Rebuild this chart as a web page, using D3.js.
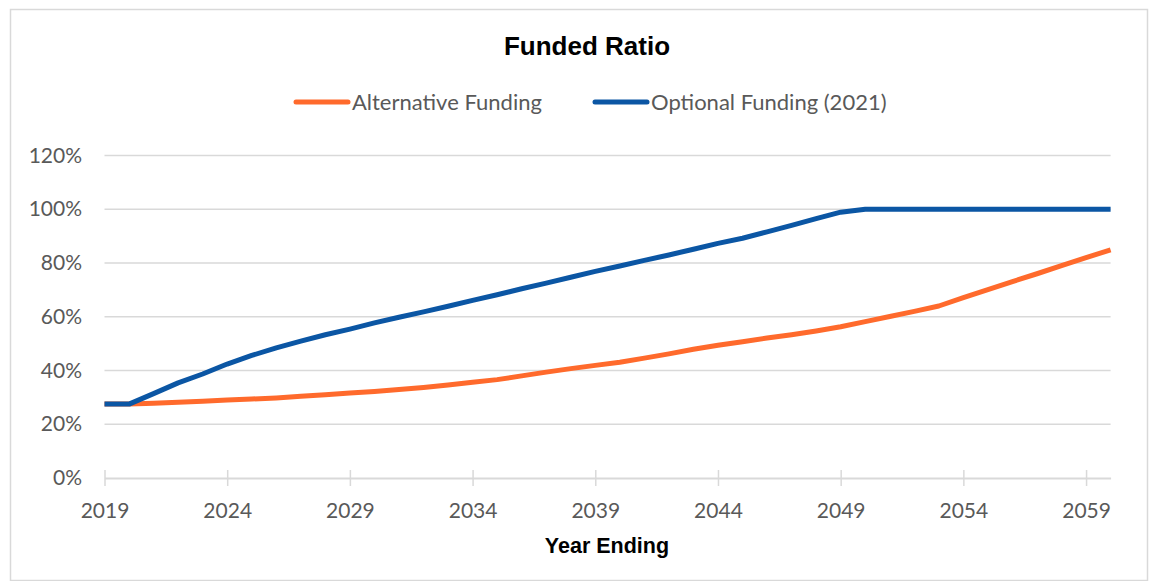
<!DOCTYPE html>
<html>
<head>
<meta charset="utf-8">
<script src="https://cdn.jsdelivr.net/npm/d3@7"></script>
<style>
  body { margin: 0; background: #fff; }
  svg { display: block; }
</style>
</head>
<body>
<svg id="chart" width="1149" height="581"></svg>
<script>
// Plan years (category axis)
const years = [2019, 2020, 2021, 2022, 2023, 2024, 2025, 2026, 2027, 2028,
               2029, 2030, 2031, 2032, 2033, 2034, 2035, 2036, 2037, 2038,
               2039, 2040, 2041, 2042, 2043, 2044, 2045, 2046, 2047, 2048,
               2049, 2050, 2051, 2052, 2053, 2054, 2055, 2056, 2057, 2058,
               2059, 2060];

// Funded ratio (%) under each funding approach
const alternativeFunding = [27.5, 27.5, 27.8, 28.2, 28.6, 29.0, 29.4, 29.8, 30.4, 31.0,
                            31.6, 32.2, 32.9, 33.7, 34.6, 35.6, 36.6, 38.0, 39.4, 40.7,
                            41.9, 43.1, 44.6, 46.2, 47.9, 49.4, 50.7, 52.1, 53.3, 54.7,
                            56.3, 58.2, 60.1, 62.0, 64.0, 67.1, 70.1, 73.1, 76.0, 79.0,
                            82.0, 84.9];
const optionalFunding = [27.5, 27.5, 31.4, 35.4, 38.7, 42.4, 45.6, 48.4, 50.9, 53.3,
                         55.4, 57.7, 59.8, 61.8, 63.9, 66.1, 68.2, 70.4, 72.5, 74.7,
                         76.9, 78.9, 81.0, 83.0, 85.1, 87.3, 89.2, 91.6, 94.0, 96.5,
                         98.9, 100, 100, 100, 100, 100, 100, 100, 100, 100,
                         100, 100];

const seriesNames = ["Alternative Funding", "Optional Funding (2021)"];
const yTicks = [0, 20, 40, 60, 80, 100, 120];
const xTicks = [2019, 2024, 2029, 2034, 2039, 2044, 2049, 2054, 2059];

const colors = { alt: "#FF6A2C", opt: "#0B56A4" };
const grid = "#D9D9D9";
const textGray = "#595959";
const bodyFont = "Lato, 'Open Sans', sans-serif";
const boldFont = "'Liberation Sans', Arial, sans-serif";

const svg = d3.select("#chart");

// outer chart frame
svg.append("rect")
  .attr("x", 10.5).attr("y", 9.5)
  .attr("width", 1137).attr("height", 571)
  .attr("fill", "#fff").attr("stroke", grid).attr("stroke-width", 1.5);

const x = d3.scalePoint().domain(years).range([104.5, 1110.6]);
const y = d3.scaleLinear().domain([0, 120]).range([478, 155.5]);

// horizontal gridlines
svg.append("g")
  .selectAll("line")
  .data(yTicks.filter(d => d > 0))
  .join("line")
  .attr("x1", x(years[0])).attr("x2", x(years[years.length - 1]))
  .attr("y1", d => y(d)).attr("y2", d => y(d))
  .attr("stroke", grid).attr("stroke-width", 1.5);

// y axis labels
const yAxis = svg.append("g")
  .attr("transform", "translate(82,0)")
  .call(d3.axisLeft(y).tickValues(yTicks).tickSize(0).tickPadding(0).tickFormat(d => d + "%"));
yAxis.select(".domain").remove();
yAxis.selectAll("text")
  .attr("fill", textGray)
  .style("font-family", bodyFont)
  .style("font-size", "21px");

// x axis with ticks crossing the baseline
const xAxis = svg.append("g")
  .attr("transform", `translate(0,${y(0)})`)
  .call(d3.axisBottom(x).tickValues(xTicks).tickSize(8).tickSizeOuter(0).tickPadding(17));
xAxis.select(".domain")
  .attr("stroke", grid).attr("stroke-width", 2);
xAxis.selectAll(".tick line")
  .attr("y1", -8).attr("y2", 8)
  .attr("stroke", grid).attr("stroke-width", 1.5);
xAxis.selectAll("text")
  .attr("fill", textGray)
  .style("font-family", bodyFont)
  .style("font-size", "21px");

// series lines
const line = d3.line()
  .x((d, i) => x(years[i]))
  .y(d => y(d));

svg.append("path")
  .datum(alternativeFunding)
  .attr("d", line)
  .attr("fill", "none")
  .attr("stroke", colors.alt)
  .attr("stroke-width", 5)
  .attr("stroke-linejoin", "round");

svg.append("path")
  .datum(optionalFunding)
  .attr("d", line)
  .attr("fill", "none")
  .attr("stroke", colors.opt)
  .attr("stroke-width", 5)
  .attr("stroke-linejoin", "round");

// title
svg.append("text")
  .attr("x", 587).attr("y", 55)
  .attr("text-anchor", "middle")
  .attr("fill", "#000")
  .style("font-family", boldFont)
  .style("font-weight", "bold")
  .style("font-size", "26px")
  .text("Funded Ratio");

// axis title
svg.append("text")
  .attr("x", 607).attr("y", 553)
  .attr("text-anchor", "middle")
  .attr("fill", "#000")
  .style("font-family", boldFont)
  .style("font-weight", "bold")
  .style("font-size", "21.5px")
  .text("Year Ending");

// legend
const legendItems = [
  { name: seriesNames[0], color: colors.alt, x0: 296 },
  { name: seriesNames[1], color: colors.opt, x0: 595 }
];
const legend = svg.append("g");
legendItems.forEach(item => {
  legend.append("line")
    .attr("x1", item.x0).attr("x2", item.x0 + 52)
    .attr("y1", 102).attr("y2", 102)
    .attr("stroke", item.color).attr("stroke-width", 5)
    .attr("stroke-linecap", "round");
  legend.append("text")
    .attr("x", item.x0 + 56).attr("y", 110)
    .attr("fill", textGray)
    .style("font-family", bodyFont)
    .style("font-size", "22px")
    .text(item.name);
});
</script>
</body>
</html>
